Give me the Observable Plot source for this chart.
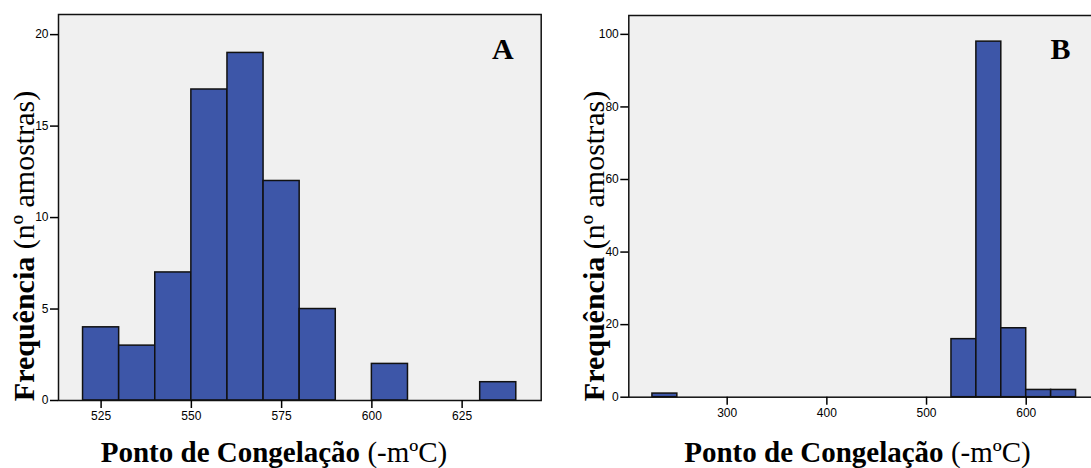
<!DOCTYPE html>
<html>
<head>
<meta charset="utf-8">
<script src="https://cdn.jsdelivr.net/npm/d3@7"></script>
<script src="https://cdn.jsdelivr.net/npm/@observablehq/plot@0.6"></script>
<style>
  html, body { margin: 0; padding: 0; background: #ffffff; overflow: hidden; }
  #wrap { position: relative; width: 1091px; height: 468px; overflow: hidden; background: #fff; }
  .panel { position: absolute; top: 0; }
  .ylab, .xlab {
    position: absolute; white-space: nowrap; font-family: "Liberation Serif", "Times New Roman", serif;
    color: #000; font-weight: normal;
  }
  .ylab { font-size: 30px; line-height: 30px; transform: translate(-50%, -50%) rotate(-90deg); }
  .xlab { font-size: 29px; line-height: 29px; transform: translateX(-50%); }
  .ylab b, .xlab b { font-weight: bold; }
</style>
</head>
<body>
<div id="wrap"></div>
<script>
// ---- Data ----
// Panel A: freezing point histogram, bins of 10
const aBinStart = [520, 530, 540, 550, 560, 570, 580, 590, 600, 610, 620, 630];
const aCounts   = [4, 3, 7, 17, 19, 12, 5, 0, 2, 0, 0, 1];
const aBinWidth = 10;
const aTicksX = [525, 550, 575, 600, 625];
const aTicksY = [0, 5, 10, 15, 20];
const aXDomain = [513.2, 646.9];
const aYDomain = [0, 21.1];

// Panel B: freezing point histogram, bins of 25
const bBinStart = [225, 525, 550, 575, 600, 625];
const bCounts   = [1, 16, 98, 19, 2, 2];
const bBinWidth = 25;
const bTicksX = [300, 400, 500, 600];
const bTicksY = [0, 20, 40, 60, 80, 100];
const bXDomain = [201.3, 667.5];
const bYDomain = [0, 105.2];

const yTitleBold = "Frequência";
const yTitleRest = " (nº amostras)";
const xTitleBold = "Ponto de Congelação";
const xTitleRest = " (-mºC)";

function panel(o) {
  const data = o.starts.map((s, i) => ({x1: s, x2: s + o.binW, y: o.counts[i]})).filter(d => d.y > 0);
  return Plot.plot({
    width: o.w, height: o.h,
    marginLeft: o.ml, marginRight: o.mr, marginTop: o.mt, marginBottom: o.mb,
    x: {domain: o.xDomain},
    y: {domain: o.yDomain},
    style: {background: "transparent", fontFamily: "'Liberation Sans', Arial, sans-serif", fontSize: "12px", color: "#000", overflow: "visible"},
    marks: [
      Plot.frame({fill: "#f0f0f0"}),
      Plot.rectY(data, {x1: "x1", x2: "x2", y: "y", fill: "#3d56a8", stroke: "#111", strokeWidth: 1.5, inset: 0}),
      Plot.frame({stroke: "#111", strokeWidth: 1.5}),
      Plot.axisX({ticks: o.xTicks, tickSize: 8, tickPadding: 3, label: null, strokeWidth: 1.5, tickFormat: d => String(d)}),
      Plot.axisY({ticks: o.yTicks, tickSize: 8, tickPadding: 2, label: null, strokeWidth: 1.5, tickFormat: d => String(d)}),
      Plot.text([o.letter], {text: d => d, frameAnchor: "top-right", textAnchor: "end", lineAnchor: "top",
        dx: o.ldx, dy: o.ldy, fontSize: 30, fontWeight: "bold", fontFamily: "'Liberation Serif', 'Times New Roman', serif", fill: "#000"})
    ]
  });
}

const wrap = document.getElementById("wrap");

function addPanel(svg, left) {
  svg.classList.add("panel");
  svg.style.left = left + "px";
  wrap.appendChild(svg);
}

addPanel(panel({
  starts: aBinStart, counts: aCounts, binW: aBinWidth,
  xDomain: aXDomain, yDomain: aYDomain, xTicks: aTicksX, yTicks: aTicksY,
  letter: "A", w: 560, h: 430, ml: 58, mr: 19.3, mt: 14, mb: 30,
  ldx: -27.5, ldy: 23.5
}), 0);

addPanel(panel({
  starts: bBinStart, counts: bCounts, binW: bBinWidth,
  xDomain: bXDomain, yDomain: bYDomain, xTicks: bTicksX, yTicks: bTicksY,
  letter: "B", w: 533, h: 430, ml: 58.3, mr: 10, mt: 15, mb: 33.3,
  ldx: -23, ldy: 22.5
}), 570);

function addLabel(cls, left, top) {
  const d = document.createElement("div");
  d.className = cls;
  d.style.left = left + "px";
  d.style.top = top + "px";
  const b = document.createElement("b");
  b.textContent = cls === "ylab" ? yTitleBold : xTitleBold;
  d.appendChild(b);
  d.appendChild(document.createTextNode(cls === "ylab" ? yTitleRest : xTitleRest));
  wrap.appendChild(d);
}

addLabel("ylab", 24, 246);
addLabel("ylab", 594, 246);
addLabel("xlab", 274, 438);
addLabel("xlab", 857.5, 438);
</script>
</body>
</html>
